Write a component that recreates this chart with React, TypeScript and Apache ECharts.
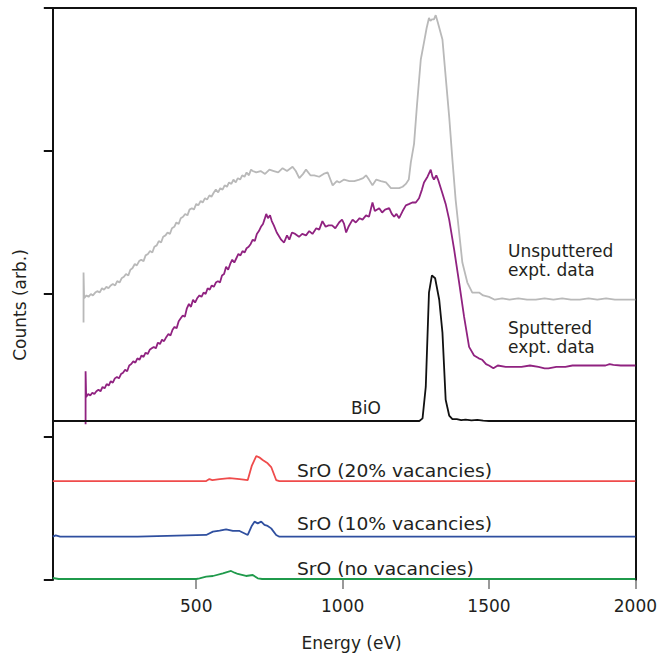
import React, { useEffect, useRef } from "react";
import * as echarts from "echarts";

// Energy (eV), counts (arb. units, offset stacked)
const unsputtered: [number, number][] = [
  [115, 1.8], [115, 2.15], [117, 1.97], [125, 1.99], [132, 1.98], [140, 2.0], [147, 1.99], [155, 2.01],
  [162, 2.02], [170, 2.01], [178, 2.04], [185, 2.03], [193, 2.05], [200, 2.04], [208, 2.06], [215, 2.07],
  [223, 2.06], [230, 2.09], [238, 2.08], [245, 2.11], [253, 2.12], [260, 2.14], [268, 2.13], [275, 2.17],
  [282, 2.18], [290, 2.21], [297, 2.2], [305, 2.23], [312, 2.24], [320, 2.23], [327, 2.27], [335, 2.28],
  [342, 2.3], [350, 2.29], [357, 2.33], [365, 2.34], [372, 2.37], [380, 2.36], [387, 2.4], [395, 2.41],
  [402, 2.43], [410, 2.42], [417, 2.46], [425, 2.47], [432, 2.5], [440, 2.49], [447, 2.53], [455, 2.54],
  [462, 2.56], [470, 2.55], [477, 2.59], [485, 2.6], [492, 2.59], [500, 2.63], [507, 2.62], [515, 2.65],
  [522, 2.64], [530, 2.67], [537, 2.66], [545, 2.69], [552, 2.68], [560, 2.71], [567, 2.73], [575, 2.71],
  [582, 2.74], [590, 2.73], [597, 2.76], [605, 2.75], [612, 2.78], [620, 2.77], [627, 2.8], [635, 2.78],
  [642, 2.81], [650, 2.8], [657, 2.83], [665, 2.82], [672, 2.85], [680, 2.83], [687, 2.87], [693, 2.86],
  [705, 2.85], [720, 2.86], [735, 2.84], [750, 2.87], [765, 2.86], [780, 2.85], [795, 2.88],
  [810, 2.86], [829, 2.89], [840, 2.86], [852, 2.81], [865, 2.84], [875, 2.87], [890, 2.83], [903, 2.83],
  [920, 2.82], [935, 2.84], [949, 2.85], [966, 2.76], [980, 2.79], [989, 2.78], [1005, 2.8], [1023, 2.79],
  [1040, 2.79], [1057, 2.8], [1070, 2.81], [1080, 2.83], [1090, 2.8], [1102, 2.76], [1115, 2.8], [1131, 2.79],
  [1148, 2.78], [1165, 2.74], [1180, 2.74], [1193, 2.74], [1205, 2.75], [1216, 2.77], [1226, 2.8], [1233, 2.92],
  [1244, 3.05], [1254, 3.32], [1267, 3.64], [1278, 3.76], [1287, 3.86], [1295, 3.93], [1300, 3.91], [1305, 3.92],
  [1312, 3.92], [1318, 3.95], [1325, 3.9], [1341, 3.78], [1352, 3.52], [1364, 3.24], [1375, 2.94], [1386, 2.66],
  [1398, 2.43], [1409, 2.22], [1426, 2.08], [1443, 2.01], [1466, 2.01], [1480, 1.99], [1500, 1.98], [1520, 1.96],
  [1545, 1.97], [1570, 1.96], [1600, 1.97], [1630, 1.96], [1660, 1.96], [1690, 1.97], [1720, 1.96], [1750, 1.97],
  [1780, 1.96], [1810, 1.96], [1840, 1.97], [1870, 1.96], [1900, 1.97], [1930, 1.96], [1960, 1.96], [2000, 1.96],
];

const sputtered: [number, number][] = [
  [122, 1.09], [122, 1.46], [124, 1.28], [131, 1.3], [138, 1.29], [145, 1.31], [152, 1.3], [159, 1.32],
  [166, 1.33], [173, 1.32], [180, 1.35], [187, 1.34], [194, 1.37], [201, 1.36], [208, 1.39], [215, 1.38],
  [222, 1.41], [229, 1.42], [236, 1.41], [243, 1.44], [250, 1.45], [257, 1.47], [264, 1.46], [271, 1.5],
  [278, 1.51], [285, 1.53], [292, 1.52], [299, 1.55], [306, 1.54], [313, 1.57], [320, 1.56], [327, 1.59],
  [334, 1.58], [341, 1.61], [348, 1.62], [355, 1.63], [362, 1.62], [369, 1.66], [376, 1.65], [383, 1.68],
  [390, 1.67], [398, 1.7], [405, 1.72], [412, 1.71], [419, 1.75], [426, 1.77], [433, 1.76], [440, 1.81],
  [447, 1.83], [454, 1.85], [461, 1.84], [468, 1.9], [475, 1.93], [482, 1.91], [489, 1.96], [496, 1.94],
  [503, 1.97], [511, 1.99], [518, 1.98], [525, 2.01], [532, 2.0], [539, 2.04], [546, 2.03], [553, 2.06],
  [560, 2.05], [567, 2.08], [574, 2.09], [581, 2.08], [588, 2.13], [595, 2.14], [602, 2.19], [609, 2.17],
  [616, 2.21], [623, 2.24], [630, 2.22], [637, 2.25], [644, 2.28], [651, 2.27], [658, 2.3], [665, 2.29],
  [672, 2.32], [679, 2.33], [686, 2.35], [693, 2.38], [700, 2.37], [707, 2.42], [714, 2.44], [721, 2.47],
  [728, 2.49], [733, 2.52], [739, 2.56], [745, 2.53], [752, 2.55], [758, 2.51], [765, 2.48], [775, 2.43],
  [790, 2.38], [800, 2.36], [810, 2.41], [818, 2.38], [827, 2.43],
  [838, 2.42], [851, 2.4], [862, 2.42], [875, 2.41], [886, 2.44], [897, 2.42], [910, 2.46], [920, 2.45],
  [931, 2.51], [942, 2.47], [952, 2.48], [964, 2.48], [975, 2.46], [988, 2.5], [998, 2.52], [1005, 2.49],
  [1012, 2.43], [1020, 2.47], [1034, 2.52], [1045, 2.5], [1058, 2.53], [1068, 2.52], [1080, 2.55], [1090, 2.54],
  [1102, 2.64], [1110, 2.58], [1125, 2.6], [1135, 2.57], [1145, 2.59], [1159, 2.6], [1168, 2.56], [1176, 2.54],
  [1184, 2.56], [1193, 2.53], [1205, 2.58], [1216, 2.62], [1228, 2.63], [1238, 2.64], [1250, 2.64], [1261, 2.67],
  [1271, 2.73], [1278, 2.78], [1290, 2.82], [1301, 2.87], [1307, 2.82], [1312, 2.8], [1320, 2.83], [1326, 2.8],
  [1340, 2.71], [1352, 2.63], [1364, 2.52], [1381, 2.31], [1398, 2.08], [1415, 1.84], [1432, 1.63], [1449, 1.57],
  [1465, 1.55], [1477, 1.54], [1490, 1.51], [1500, 1.5], [1515, 1.48], [1530, 1.5], [1557, 1.49], [1580, 1.49],
  [1611, 1.49], [1640, 1.5], [1669, 1.49], [1690, 1.48], [1703, 1.48], [1730, 1.49], [1761, 1.49], [1785, 1.5],
  [1805, 1.5], [1840, 1.5], [1870, 1.5], [1898, 1.5], [1912, 1.51], [1925, 1.505], [1950, 1.5], [1980, 1.5],
  [2000, 1.5],
];

const bio: [number, number][] = [
  [10, 1.112], [200, 1.112], [400, 1.113], [600, 1.112], [800, 1.112], [1000, 1.113], [1150, 1.112],
  [1262, 1.112], [1273, 1.13], [1284, 1.35], [1295, 2.01], [1305, 2.13], [1316, 2.11], [1330, 1.96],
  [1341, 1.73], [1352, 1.26], [1364, 1.15], [1375, 1.125], [1390, 1.125], [1405, 1.118], [1420, 1.122],
  [1440, 1.116], [1460, 1.12], [1480, 1.114], [1500, 1.112], [1700, 1.112], [2000, 1.112],
];

const srO20: [number, number][] = [
  [10, 0.692], [300, 0.692], [534, 0.692], [545, 0.706], [555, 0.699], [580, 0.706], [614, 0.713],
  [648, 0.706], [676, 0.699], [690, 0.8], [705, 0.867], [715, 0.858], [727, 0.839], [744, 0.816],
  [756, 0.79], [773, 0.699], [784, 0.692], [1000, 0.692], [1500, 0.692], [2000, 0.692],
];

const srO10: [number, number][] = [
  [10, 0.303], [20, 0.312], [35, 0.303], [300, 0.303], [534, 0.315], [557, 0.338], [580, 0.345],
  [602, 0.354], [625, 0.343], [648, 0.343], [676, 0.315], [690, 0.38], [699, 0.408], [710, 0.396],
  [722, 0.408], [733, 0.385], [744, 0.378], [756, 0.361], [773, 0.315], [784, 0.303], [1000, 0.303],
  [1500, 0.303], [2000, 0.303],
];

const srO0: [number, number][] = [
  [10, 0.014], [30, 0.007], [500, 0.007], [511, 0.012], [534, 0.023], [557, 0.028], [591, 0.047],
  [602, 0.054], [619, 0.063], [631, 0.051], [642, 0.042], [670, 0.028], [693, 0.035], [710, 0.012],
  [725, 0.007], [1000, 0.007], [2000, 0.007],
];

const xTicks = [500, 1000, 1500, 2000];

const FONT = "DejaVu Sans";
const TXT = "#231f20";

export default function App() {
  const ref = useRef<HTMLDivElement>(null);
  useEffect(() => {
    if (!ref.current) return;
    const chart = echarts.init(ref.current, undefined, { renderer: "svg" });
    const mk = (data: [number, number][], color: string) => ({
      type: "line",
      data,
      symbol: "none",
      showSymbol: false,
      lineStyle: { color, width: 1.8 },
      xAxisIndex: 0,
      yAxisIndex: 0,
      silent: true,
    });
    const label = (text: string, x: number, y: number, scaleX = 1) => ({
      type: "text",
      x,
      y,
      scaleX,
      style: {
        text,
        fill: TXT,
        fontSize: 17,
        fontFamily: FONT,
        textAlign: "left",
        textVerticalAlign: "middle",
      },
    });
    chart.setOption({
      animation: false,
      grid: { left: 52.8, right: 23, top: 8, bottom: 77 },
      xAxis: [
        {
          type: "value",
          min: 10,
          max: 2000,
          name: "Energy (eV)",
          nameLocation: "middle",
          nameGap: 54,
          nameTextStyle: { fontSize: 17, fontFamily: FONT, color: TXT, padding: [0, 0, 0, 15] },
          axisLine: { show: false, onZero: false },
          axisTick: { show: true, customValues: xTicks, length: 9, lineStyle: { color: "#777", width: 1.5 } },
          axisLabel: {
            show: true,
            customValues: xTicks,
            fontSize: 17,
            fontFamily: FONT,
            color: TXT,
            margin: 17,
            formatter: (v: number) => String(v),
          },
          splitLine: { show: false },
        },
        {
          type: "value",
          position: "top",
          min: 10,
          max: 2000,
          axisLine: { show: true, onZero: false, lineStyle: { color: "#111", width: 2 } },
          axisTick: { show: false },
          axisLabel: { show: false },
          splitLine: { show: false },
        },
      ],
      yAxis: [
        {
          type: "value",
          min: 0,
          max: 4,
          interval: 1,
          name: "Counts (arb.)",
          nameLocation: "middle",
          nameGap: 24,
          nameTextStyle: { fontSize: 17, fontFamily: FONT, color: TXT, padding: [0, 22, 0, 0] },
          axisLine: { show: true, onZero: false, lineStyle: { color: "#111", width: 2 } },
          axisTick: { show: true, length: 9, lineStyle: { color: "#111", width: 2 } },
          axisLabel: { show: false },
          splitLine: { show: false },
        },
        {
          type: "value",
          position: "right",
          min: 0,
          max: 4,
          interval: 1,
          axisLine: { show: true, onZero: false, lineStyle: { color: "#111", width: 2 } },
          axisTick: { show: false },
          axisLabel: { show: false },
          splitLine: { show: false },
        },
      ],
      series: [
        mk(unsputtered, "#b9b9b9"),
        mk(sputtered, "#902280"),
        mk(bio, "#111111"),
        mk(srO20, "#ef4b4b"),
        mk(srO10, "#2f4f9f"),
        mk(srO0, "#1f9a4b"),
      ],
      graphic: [
        label("Unsputtered", 508, 251.0),
        label("expt. data", 508, 269.8),
        label("Sputtered", 508, 328),
        label("expt. data", 508, 346.8),
        label("BiO", 351, 408),
        label("SrO (20% vacancies)", 297, 470.7, 1.1),
        label("SrO (10% vacancies)", 297, 524, 1.1),
        label("SrO (no vacancies)", 297, 569.3, 1.1),
      ],
    });
    return () => chart.dispose();
  }, []);
  return (
    <div
      ref={ref}
      style={{ position: "absolute", left: 0, top: 0, width: 660, height: 657 }}
    />
  );
}
